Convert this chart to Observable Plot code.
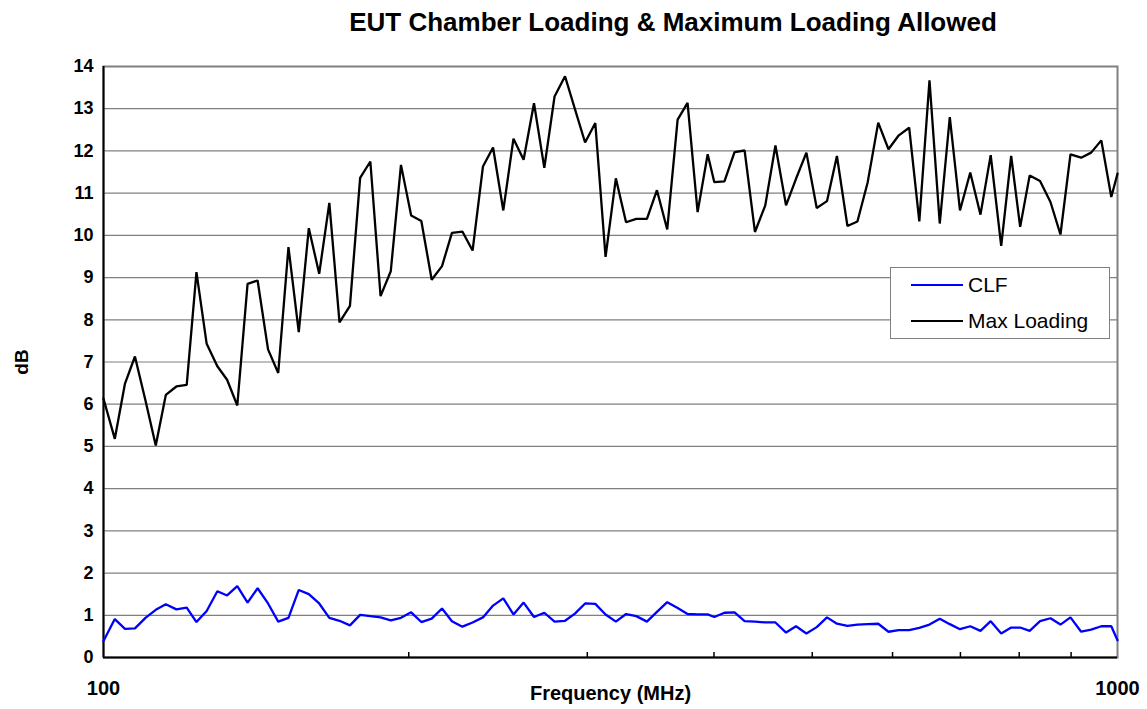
<!DOCTYPE html>
<html>
<head>
<meta charset="utf-8">
<script src="https://cdn.jsdelivr.net/npm/d3@7"></script>
<script src="https://cdn.jsdelivr.net/npm/@observablehq/plot@0.6"></script>
<style>
  body { margin: 0; background: #fff; font-family: "Liberation Sans", Arial, sans-serif; }
  #wrap { position: relative; width: 1147px; height: 709px; overflow: hidden; }
  #title { position: absolute; left: 673px; top: 9px; transform: translateX(-50%); white-space: nowrap;
           font-size: 26px; font-weight: bold; line-height: 1; color: #000; }
  #chart { position: absolute; left: 0; top: 45px; }
  #legend { position: absolute; left: 890px; top: 267px; width: 218px; height: 70px; background: #fff;
            border: 1px solid #808080; box-sizing: content-box; }
  .item { position: absolute; left: 20px; height: 24px; display: flex; align-items: center; font-size: 21px; }
  .swatch { width: 52px; height: 2px; margin-right: 5px; }
  .c text { font-family: "Liberation Sans", Arial, sans-serif; fill: #000; }
  .c [aria-label="y-axis tick label"] { font-size: 18px; font-weight: bold; }
  .c [aria-label="x-axis tick label"] { font-size: 20px; font-weight: bold; }
  .c [aria-label="y-axis label"] { font-size: 19px; font-weight: bold; }
  .c [aria-label="x-axis label"] { font-size: 20px; font-weight: bold; }
</style>
</head>
<body>
<div id="wrap">
  <div id="title">EUT Chamber Loading &amp; Maximum Loading Allowed</div>
  <div id="chart"></div>
  <div id="legend">
    <div class="item" style="top:5px"><div class="swatch" style="background:#0000ff"></div>CLF</div>
    <div class="item" style="top:41px"><div class="swatch" style="background:#000"></div>Max Loading</div>
  </div>
</div>
<script>
// Frequency (MHz) of each sample
const freq = [100, 102.6, 105.0, 107.4, 110.0, 112.6, 115.2, 118.0, 120.8, 123.5,
  126.4, 129.5, 132.4, 135.5, 138.7, 141.9, 145.3, 148.7, 152.2, 155.8,
  159.4, 163.2, 167.0, 170.9, 175.0, 179.1, 183.3, 187.6, 192.0, 196.5,
  201.1, 205.8, 210.7, 215.7, 220.6, 225.9, 231.2, 236.7, 242.2, 247.9,
  253.7, 259.6, 265.8, 272.1, 278.5, 285.2, 291.7, 298.5, 305.5, 312.7,
  320.1, 327.6, 335.3, 343.5, 351.4, 359.7, 368.3, 376.7, 385.4, 394.3,
  400.3, 409.6, 419.1, 428.8, 439.0, 449.4, 459.9, 471.1, 481.9, 493.4,
  505.1, 517.0, 528.8, 541.6, 554.0, 567.1, 580.8, 594.5, 608.6, 623.1,
  637.6, 652.5, 667.9, 683.3, 699.3, 715.8, 732.6, 749.8, 767.9, 785.5,
  801.7, 819.2, 838.7, 858.8, 878.5, 898.7, 920.8, 941.9, 963.9, 986.0, 1000];

// CLF (dB)
const clf = [0.39, 0.91, 0.68, 0.69, 0.94, 1.13, 1.26, 1.14, 1.18, 0.84,
  1.10, 1.57, 1.47, 1.69, 1.30, 1.64, 1.28, 0.85, 0.94, 1.60,
  1.50, 1.28, 0.94, 0.87, 0.76, 1.01, 0.98, 0.95, 0.88, 0.94,
  1.07, 0.84, 0.92, 1.16, 0.86, 0.73, 0.83, 0.95, 1.23, 1.40,
  1.02, 1.30, 0.96, 1.06, 0.85, 0.87, 1.04, 1.28, 1.27, 1.02,
  0.85, 1.03, 0.98, 0.85, 1.08, 1.31, 1.17, 1.03, 1.02, 1.02,
  0.96, 1.06, 1.07, 0.86, 0.85, 0.83, 0.83, 0.59, 0.74, 0.57,
  0.72, 0.95, 0.80, 0.75, 0.78, 0.79, 0.80, 0.61, 0.65, 0.65,
  0.70, 0.78, 0.92, 0.79, 0.67, 0.74, 0.63, 0.86, 0.57, 0.71,
  0.71, 0.63, 0.86, 0.93, 0.78, 0.95, 0.61, 0.66, 0.74, 0.74, 0.41];

// Max Loading (dB)
const maxLoading = [6.13, 5.18, 6.49, 7.13, 6.09, 5.02, 6.22, 6.42, 6.46, 9.13,
  7.43, 6.90, 6.58, 5.97, 8.85, 8.93, 7.30, 6.74, 9.72, 7.71,
  10.17, 9.09, 10.77, 7.94, 8.33, 11.36, 11.75, 8.56, 9.15, 11.67,
  10.47, 10.34, 8.95, 9.27, 10.06, 10.09, 9.64, 11.63, 12.08, 10.59,
  12.29, 11.79, 13.13, 11.60, 13.29, 13.77, 12.99, 12.20, 12.66, 9.49,
  11.35, 10.31, 10.39, 10.39, 11.07, 10.14, 12.74, 13.14, 10.55, 11.92,
  11.26, 11.28, 11.97, 12.01, 10.08, 10.71, 12.13, 10.71, 11.34, 11.96,
  10.65, 10.81, 11.88, 10.22, 10.33, 11.26, 12.67, 12.04, 12.37, 12.55,
  10.33, 13.67, 10.28, 12.80, 10.59, 11.49, 10.49, 11.90, 9.75, 11.88,
  10.20, 11.42, 11.29, 10.79, 10.02, 11.92, 11.84, 11.96, 12.25, 10.91, 11.46];

// Axis ticks
const yTicks = [0, 1, 2, 3, 4, 5, 6, 7, 8, 9, 10, 11, 12, 13, 14];
const yGrid = [1, 2, 3, 4, 5, 6, 7, 8, 9, 10, 11, 12, 13];
const xTickLabels = [100, 1000];
const xMinorTicks = [200, 300, 400, 500, 600, 700, 800, 900];

const rows = freq.map((f, i) => ({f, clf: clf[i], ml: maxLoading[i]}));

const chart = Plot.plot({
  className: "c",
  width: 1147,
  height: 664,
  marginTop: 21,
  marginBottom: 52,
  marginLeft: 103,
  marginRight: 30,
  x: {type: "log", domain: [100, 1000]},
  y: {domain: [0, 14]},
  marks: [
    Plot.ruleY(yGrid, {stroke: "#808080", strokeWidth: 1.2}),
    Plot.frame({stroke: "#808080", strokeWidth: 2}),
    Plot.ruleX([100], {stroke: "#000", strokeWidth: 2}),
    Plot.ruleY([0], {stroke: "#000", strokeWidth: 2}),
    Plot.ruleX(xMinorTicks, {y1: 0, y2: 0, insetTop: -5, stroke: "#000", strokeWidth: 1.5}),
    Plot.line(rows, {x: "f", y: "ml", stroke: "#000", strokeWidth: 2.3, strokeLinejoin: "miter"}),
    Plot.line(rows, {x: "f", y: "clf", stroke: "#0000ff", strokeWidth: 2.3, strokeLinejoin: "miter"}),
    Plot.axisY(yTicks, {tickSize: 0, tickPadding: 10, label: "dB", labelAnchor: "center", labelArrow: "none", labelOffset: 89, dy: 0}),
    Plot.axisX(xTickLabels, {tickSize: 0, tickPadding: 23, tickFormat: (d) => String(d), label: "Frequency (MHz)", labelAnchor: "center", labelArrow: "none", labelOffset: 42})
  ]
});
document.getElementById("chart").appendChild(chart);
</script>
</body>
</html>
